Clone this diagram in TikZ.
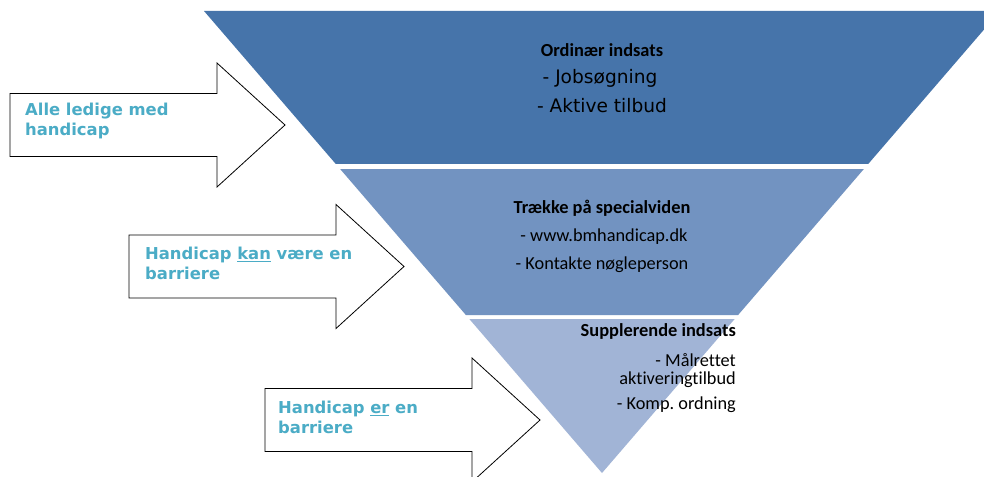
\documentclass[tikz,border=0pt]{standalone}
\usepackage{fontspec}
\setmainfont{Carlito}[Ligatures=CommonOff]
\newfontfamily\verdfont{DejaVu Sans}
\usetikzlibrary{calc}
\definecolor{bandA}{RGB}{70,116,170}
\definecolor{bandB}{RGB}{114,147,193}
\definecolor{bandC}{RGB}{161,180,214}
\definecolor{aqua}{RGB}{75,172,198}

\tikzset{
 blockarrow/.style={draw=black, line width=0.8pt, fill=white, line join=miter},
 arrowtxt/.style={anchor=west, align=left, inner sep=0, text=aqua, font=\verdfont\bfseries\fontsize{16.4}{20.5}\selectfont},
 headtxt/.style={inner sep=0, font=\bfseries\fontsize{18.4}{22}\selectfont},
 itemtxt/.style={inner sep=0, font=\fontsize{18.3}{22}\selectfont},
 bigitem/.style={inner sep=0, font=\verdfont\fontsize{18.6}{22}\selectfont},
}

\begin{document}
\begin{tikzpicture}[x=1pt, y=-1pt]
\clip (0,0) rectangle (984,476);
\fill[white] (0,0) rectangle (984,476);
% funnel
\coordinate (tl) at (204,11);
\coordinate (tr) at (1000,11);
\coordinate (ap) at (602,473);
\fill[bandA] (tl) -- (tr) -- ($(tr)!0.331!(ap)$) -- ($(tl)!0.331!(ap)$) -- cycle;
\fill[bandB] ($(tl)!0.342!(ap)$) -- ($(tr)!0.342!(ap)$) -- ($(tr)!0.658!(ap)$) -- ($(tl)!0.658!(ap)$) -- cycle;
\fill[bandC] ($(tl)!0.667!(ap)$) -- ($(tr)!0.667!(ap)$) -- (ap) -- cycle;

% arrows
\foreach \L/\C in {10/125, 129/266.5, 265/420} {
 \draw[blockarrow] (\L,\C-31.5) --++(207,0) --++(0,-30.5) -- (\L+275,\C) -- (\L+207,\C+62) --++(0,-30.5) -- (\L,\C+31.5) -- cycle;
}
\node[arrowtxt] (lbl1) at (25,121) {Alle ledige med\\handicap};
\node[arrowtxt] (lbl2) at (145,263.5) {Handicap \underline{kan} være en\\barriere};
\node[arrowtxt] (lbl3) at (278,417.5) {Handicap \underline{er} en\\barriere};

% band texts
\node[headtxt] (ordi) at (602,50) {Ordinær indsats};
\node[bigitem] (jobs) at (600,78) {- Jobsøgning};
\node[bigitem] (aktiv) at (602,106) {- Aktive tilbud};

\node[headtxt] (spec) at (602,208) {Trække på specialviden};
\node[itemtxt] (www) at (604,237) {- www.bmhandicap.dk};
\node[itemtxt] (kont) at (602,265) {- Kontakte nøgleperson};

\node[headtxt, anchor=east] (suppl) at (736,331) {Supplerende indsats};
\node[itemtxt, anchor=east] (malr) at (736,360) {- Målrettet};
\node[itemtxt, anchor=east] (aktiv2) at (736,380) {aktiveringtilbud};
\node[itemtxt, anchor=east] (komp) at (736,405) {- Komp.\ ordning};
\end{tikzpicture}
\end{document}
